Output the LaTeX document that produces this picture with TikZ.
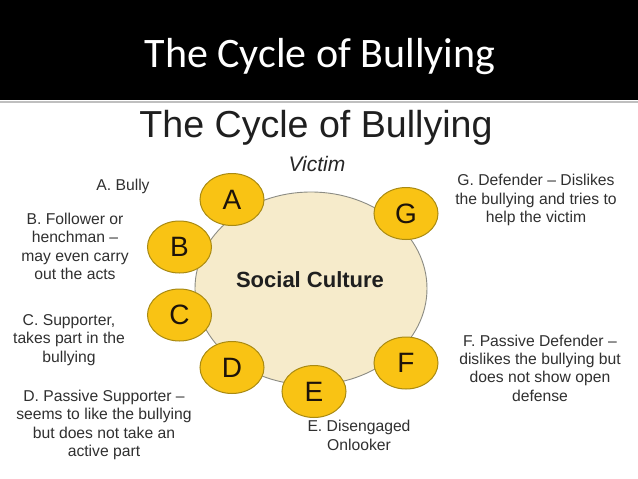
\documentclass[tikz,border=0pt]{standalone}
\usepackage{fontspec}
\setmainfont{Liberation Sans}
\newfontfamily\calibri{Carlito}
\usetikzlibrary{shapes.geometric}
\definecolor{beige}{HTML}{F6EBCB}
\definecolor{gold}{HTML}{F9C314}
\definecolor{goldline}{HTML}{A98A12}
\definecolor{labelgrey}{HTML}{303030}
\definecolor{rimgrey}{HTML}{8C8C84}
\tikzset{
  role/.style={ellipse, draw=goldline, line width=1pt, fill=gold, minimum width=64pt, minimum height=52pt, inner sep=0pt,
    text=black!85!brown, font=\fontsize{28}{28}\selectfont},
  desc/.style={align=center, text=labelgrey, inner sep=0pt, font=\fontsize{15.7}{18.3}\selectfont}
}
\begin{document}
\begin{tikzpicture}[x=1pt,y=-1pt]
\useasboundingbox (0,0) rectangle (638,479);
\fill[white] (0,0) rectangle (638,479);
\fill[black] (0,0) rectangle (638,99.5);
\draw[black!25, line width=1.5pt] (0,102) -- (638,102);
\node[text=white, font=\calibri\fontsize{42}{42}\selectfont, anchor=base] (head) at (320,67) {The Cycle of Bullying};
\node[text=black!88, font=\fontsize{37.6}{38}\selectfont, anchor=base] (title) at (316,137) {The Cycle of Bullying};
\node[text=black!85, font=\itshape\fontsize{21}{21}\selectfont] (victim) at (317,164) {Victim};
\node[ellipse, draw=rimgrey, line width=0.9pt, fill=beige, minimum width=232pt, minimum height=193pt, inner sep=0pt] (culture) at (311,288.5) {};
\node[font=\bfseries\fontsize{22}{22}\selectfont, text=black!88] (social) at (310,280) {Social Culture};
\node[role] (A) at (232,199.5) {A};
\node[role] (B) at (179.5,247) {B};
\node[role] (C) at (179.5,315) {C};
\node[role] (D) at (232,367.5) {D};
\node[role] (E) at (314,391.5) {E};
\node[role] (F) at (406,363) {F};
\node[role] (G) at (406,213.5) {G};
\node[desc] (la) at (123,186) {A. Bully};
\node[desc] (lb) at (75,246.5) {B. Follower or\\henchman --\\may even carry\\out the acts};
\node[desc] (lc) at (69,340) {C. Supporter,\\takes part in the\\bullying};
\node[desc] (ld) at (104,425) {D. Passive Supporter --\\seems to like the bullying\\but does not take an\\active part};
\node[desc] (le) at (359,435.5) {E. Disengaged\\Onlooker};
\node[desc] (lf) at (540,368) {F. Passive Defender --\\dislikes the bullying but\\does not show open\\defense};
\node[desc] (lg) at (536,200) {G. Defender -- Dislikes\\the bullying and tries to\\help the victim};
\end{tikzpicture}
\end{document}
